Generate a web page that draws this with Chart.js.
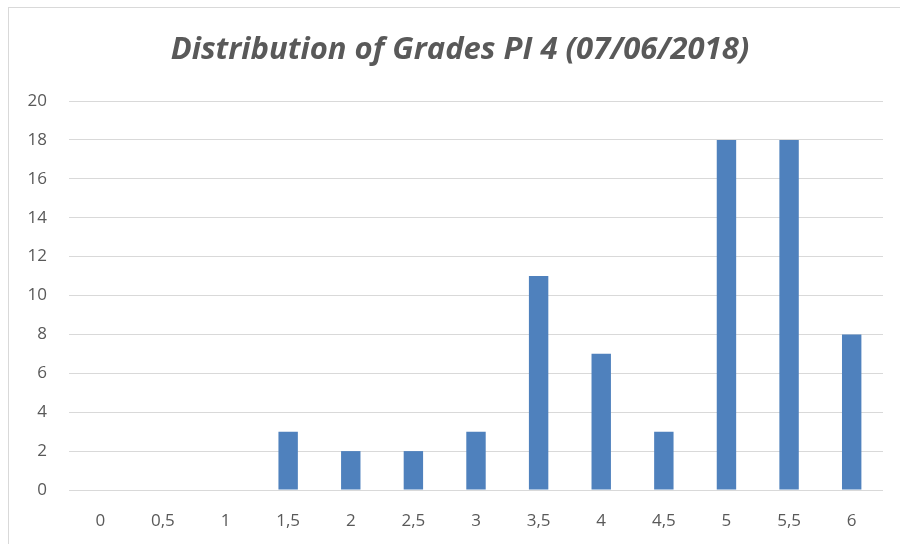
<!DOCTYPE html>
<html><head><meta charset="utf-8">
<script src="https://cdn.jsdelivr.net/npm/chart.js@4"></script>
<style>
html,body{margin:0;padding:0;background:#fff;overflow:hidden;}
#wrap{position:absolute;left:0;top:0;width:900px;height:544px;}
#frame{position:absolute;left:8px;top:7px;width:900px;height:560px;border:1px solid #d9d9d9;box-sizing:border-box;}
canvas{position:absolute;left:0;top:0;}
</style></head>
<body><div id="wrap"><div id="frame"></div><canvas id="c" width="900" height="544"></canvas></div>
<script>
const categories = ["0","0,5","1","1,5","2","2,5","3","3,5","4","4,5","5","5,5","6"];
const counts = [0,0,0,3,2,2,3,11,7,3,18,18,8];
const titleText = "Distribution of Grades PI 4 (07/06/2018)";
const FONT = "'Open Sans',sans-serif";
const titlePlugin = {
  id: 'titleText',
  afterDraw(chart) {
    const ctx = chart.ctx;
    ctx.save();
    ctx.font = "italic bold 31px " + FONT;
    ctx.fillStyle = '#595959';
    ctx.textAlign = 'center';
    ctx.textBaseline = 'middle';
    ctx.fillText(titleText, 460, 50);
    ctx.restore();
  }
};
new Chart(document.getElementById('c'), {
  type: 'bar',
  data: { labels: categories, datasets: [{ data: counts, backgroundColor: '#4f81bd', borderWidth: 0, categoryPercentage: 1, barPercentage: 0.31 }] },
  options: {
    responsive: false, animation: false,
    layout: { padding: { left: 0, right: 17, top: 101, bottom: 0 } },
    plugins: { legend: { display: false }, tooltip: { enabled: false }, title: { display: false } },
    scales: {
      x: {
        grid: { display: false, drawTicks: false }, border: { display: false },
        ticks: { color: '#595959', font: { family: FONT, size: 17 }, padding: 21, maxRotation: 0 },
        afterFit(s) { s.height = 54; }
      },
      y: {
        min: 0, max: 20,
        grid: { color: '#d9d9d9', lineWidth: 1, drawTicks: false }, border: { display: false },
        ticks: { stepSize: 2, color: '#595959', font: { family: FONT, size: 17 }, padding: 22 },
        afterFit(s) { s.width = 69; }
      }
    }
  },
  plugins: [titlePlugin]
});
</script></body></html>
